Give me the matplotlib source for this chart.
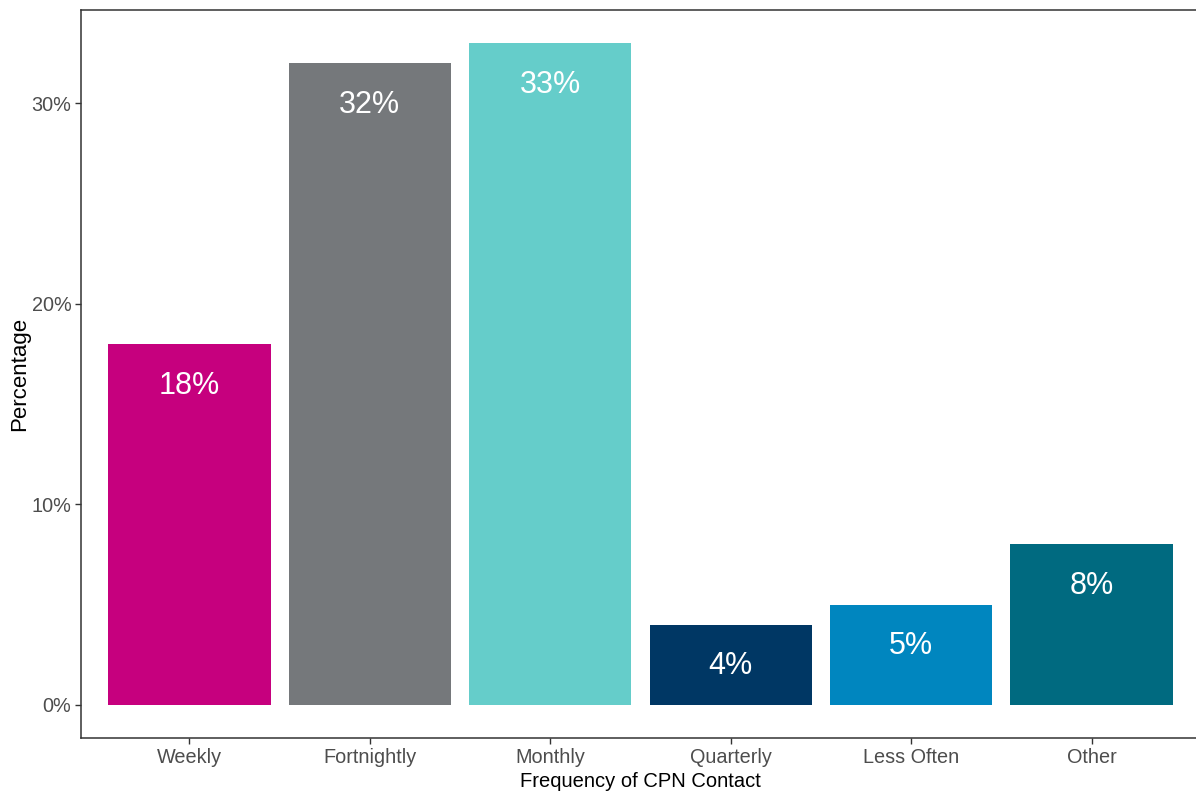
import matplotlib.pyplot as plt
from matplotlib.ticker import FuncFormatter

plt.rcParams['font.family'] = ['Liberation Sans', 'DejaVu Sans']

categories = ["Weekly", "Fortnightly", "Monthly", "Quarterly", "Less Often", "Other"]
percentages = [18, 32, 33, 4, 5, 8]
bar_colors = ["#C6007E", "#75787B", "#65CDCA", "#003764", "#0086BF", "#006A80"]

fig = plt.figure(figsize=(11.96, 7.94), dpi=100)
W, H = 1196, 794
ax = fig.add_axes([81 / W, 1 - 738 / H, (1200 - 81) / W, (738 - 10) / H])

x = list(range(len(categories)))
ax.bar(x, percentages, width=0.9, color=bar_colors)

# value labels sit just inside the top of each bar
for xi, val in zip(x, percentages):
    ax.annotate(f"{val}%", (xi, val), xytext=(0, -30), textcoords="offset points",
                ha="center", va="center", color="white", fontsize=22)

ax.set_xlim(-0.6, len(categories) - 0.4)
ax.set_ylim(-1.65, 34.65)
ax.set_xticks(x)
ax.set_xticklabels(categories)
ax.set_yticks([0, 10, 20, 30])
ax.yaxis.set_major_formatter(FuncFormatter(lambda v, _: f"{v:.0f}%"))
ax.tick_params(axis="both", labelsize=14.3, labelcolor="#4D4D4D", color="#333333",
               length=4, width=1, pad=3)

for s in ax.spines.values():
    s.set_color("#333333")
    s.set_linewidth(1.1)

ax.set_xlabel("Frequency of CPN Contact", fontsize=14.5, color="black", labelpad=4)
ax.set_ylabel("Percentage", fontsize=16, color="black", labelpad=1)

fig.savefig("out.png", dpi=100)
